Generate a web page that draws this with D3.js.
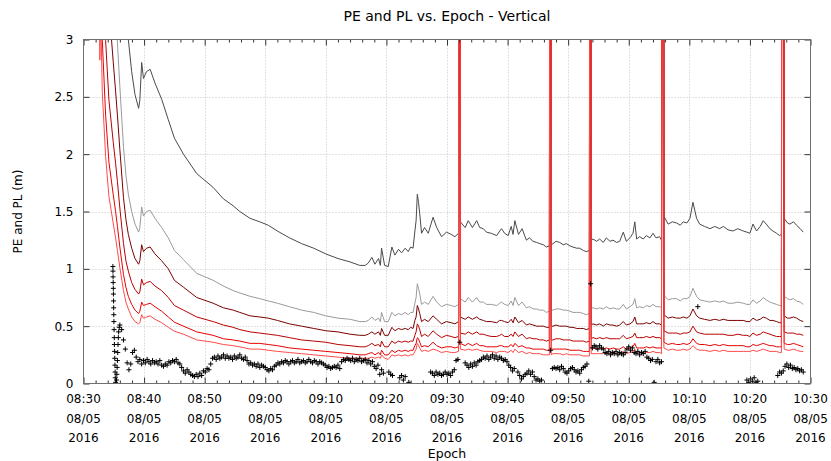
<!DOCTYPE html>
<html><head><meta charset="utf-8">
<script src="https://cdn.jsdelivr.net/npm/d3@7"></script>
<style>
body{margin:0;background:#fff}
svg{display:block}
text{font-family:"DejaVu Sans",sans-serif;fill:#000}
</style>
</head><body>
<svg id="chart" width="831" height="461"></svg>
<script>
// ---------- data (time = minutes after 08:30 on 08/05/2016) ----------
const lineT = [2.4,2.7,2.85,3.1,3.65,4.2,4.9,5.3,5.6,6.0,
6.6,7.0,7.4,7.95,8.5,9.1,9.3,9.6,9.9,10.4,
11.0,11.8,12.9,14.0,15.0,16.5,18.7,21.4,23.1,24.7,
25.8,27.5,29.1,30.5,32.0,34.0,36.0,38.0,40.0,42.0,
44.0,45.6,46.5,47.0,47.6,48.1,48.7,49.0,49.2,49.7,
50.3,50.9,51.4,52.0,52.5,53.1,53.6,54.0,54.4,54.7,
54.9,55.1,55.3,55.5,55.8,56.3,56.9,57.7,58.3,59.1,
59.9,60.7,61.3,61.9,62.0,62.15,62.2,63.0,63.5,64.2,
64.9,65.4,66.0,66.5,67.3,68.2,68.7,69.0,69.5,70.1,
70.6,70.9,71.2,71.8,72.4,73.1,73.6,74.2,74.8,75.3,
75.9,76.4,76.9,77.0,77.15,77.2,77.5,78.0,78.6,79.2,
79.7,80.3,80.8,81.4,81.9,82.5,83.0,83.5,83.6,83.75,
83.8,84.1,84.7,85.2,85.8,86.3,86.9,87.4,88.0,88.5,
89.1,89.6,90.2,90.7,91.0,91.3,91.8,92.4,92.9,93.5,
94.0,94.5,95.1,95.4,95.6,95.75,95.8,96.5,97.2,97.9,
98.5,99.0,99.6,100.1,100.6,101.2,101.7,102.5,103.4,104.2,
105.0,105.6,106.4,107.2,108.0,108.9,109.5,110.0,110.5,111.1,
111.7,112.2,112.7,113.3,113.8,114.4,114.9,115.2,115.3,115.6,
115.65,116.2,116.6,117.2,117.7,118.3,118.8];

const pl1 = [20,14,13,11.8,9.2,7.6,6.5,5.9,5.4,4.7,
3.75,3.3,3.0,2.72,2.52,2.40,2.47,2.80,2.66,2.72,
2.74,2.62,2.48,2.30,2.14,2.00,1.83,1.71,1.61,1.55,
1.50,1.44,1.41,1.38,1.33,1.27,1.22,1.18,1.13,1.09,
1.06,1.03,1.03,1.05,1.10,1.04,1.09,1.03,1.18,1.03,
1.02,1.19,1.12,1.17,1.14,1.18,1.15,1.19,1.18,1.33,
1.42,1.65,1.58,1.48,1.31,1.36,1.31,1.45,1.36,1.28,
1.32,1.30,1.28,1.31,9,9,1.41,1.36,1.42,1.36,
1.42,1.36,1.35,1.32,1.31,1.29,1.33,1.35,1.31,1.29,
1.37,1.30,1.42,1.30,1.35,1.25,1.27,1.24,1.23,1.22,
1.21,1.19,1.20,9,9,1.21,1.22,1.24,1.23,1.21,
1.22,1.20,1.19,1.18,1.18,1.16,1.15,1.16,9,9,
1.25,1.26,1.24,1.26,1.23,1.27,1.24,1.25,1.23,1.24,
1.32,1.24,1.27,1.31,1.41,1.26,1.28,1.26,1.29,1.27,
1.31,1.27,1.28,1.25,9,9,1.46,1.39,1.41,1.40,
1.38,1.41,1.40,1.44,1.58,1.44,1.39,1.37,1.35,1.37,
1.35,1.37,1.34,1.33,1.35,1.33,1.32,1.31,1.39,1.33,
1.37,1.42,1.39,1.35,1.33,1.31,1.29,1.30,9,9,
1.44,1.40,1.39,1.41,1.38,1.35,1.32];

const pl2 = [11,7.7,7.15,6.49,5.06,4.18,3.58,3.25,2.97,2.59,
2.06,1.82,1.65,1.50,1.39,1.32,1.36,1.54,1.46,1.50,
1.51,1.44,1.36,1.27,1.16,1.08,.96,.90,.85,.81,
.79,.76,.74,.72,.70,.67,.64,.62,.59,.57,
.56,.54,.54,.55,.58,.55,.57,.54,.62,.54,
.54,.62,.59,.61,.60,.62,.60,.62,.62,.70,
.75,.87,.83,.78,.69,.71,.69,.76,.71,.67,
.69,.68,.67,.69,9,9,.74,.71,.75,.71,
.75,.71,.71,.69,.69,.68,.70,.71,.69,.68,
.72,.68,.75,.68,.71,.66,.67,.65,.65,.64,
.64,.62,.63,9,9,.64,.64,.65,.65,.64,
.64,.63,.62,.62,.62,.61,.60,.61,9,9,
.66,.66,.65,.66,.65,.67,.65,.66,.65,.65,
.69,.65,.67,.69,.74,.66,.67,.66,.68,.67,
.69,.67,.67,.66,9,9,.77,.73,.74,.74,
.72,.74,.74,.76,.83,.76,.73,.72,.71,.72,
.71,.72,.70,.70,.71,.70,.69,.69,.73,.70,
.72,.75,.73,.71,.70,.69,.68,.68,9,9,
.76,.74,.73,.74,.72,.71,.69];

const pl3 = [8.66,6.06,5.63,5.11,3.98,3.29,2.81,2.55,2.34,2.04,
1.62,1.43,1.30,1.18,1.09,1.04,1.07,1.21,1.15,1.18,
1.19,1.13,1.07,1.0,.90,.84,.75,.70,.66,.64,
.62,.59,.58,.57,.55,.52,.50,.48,.46,.45,
.43,.42,.42,.43,.45,.43,.45,.42,.48,.42,
.42,.49,.46,.48,.47,.48,.47,.49,.48,.55,
.58,.68,.65,.61,.54,.56,.54,.59,.56,.52,
.54,.53,.52,.54,9,9,.58,.56,.58,.56,
.58,.56,.55,.54,.54,.53,.55,.55,.54,.53,
.56,.53,.58,.53,.55,.51,.52,.51,.50,.50,
.50,.49,.49,9,9,.50,.50,.51,.50,.50,
.50,.49,.49,.48,.48,.48,.47,.48,9,9,
.51,.52,.51,.52,.50,.52,.51,.51,.50,.51,
.54,.51,.52,.54,.58,.52,.52,.52,.53,.52,
.54,.52,.52,.51,9,9,.60,.57,.58,.57,
.57,.58,.57,.59,.65,.59,.57,.56,.55,.56,
.55,.56,.55,.55,.55,.55,.54,.54,.57,.55,
.56,.58,.57,.55,.55,.54,.53,.53,9,9,
.59,.57,.57,.58,.57,.55,.54];

const pl4 = [6.5,4.55,4.23,3.84,2.99,2.47,2.11,1.92,1.76,1.53,
1.22,1.07,.98,.88,.82,.78,.80,.91,.86,.88,
.89,.85,.81,.75,.68,.64,.58,.54,.51,.49,
.47,.45,.44,.43,.42,.40,.38,.37,.36,.34,
.33,.32,.32,.33,.35,.33,.34,.32,.37,.32,
.32,.37,.35,.37,.36,.37,.36,.37,.37,.42,
.45,.52,.50,.47,.41,.43,.41,.46,.43,.40,
.42,.41,.40,.41,9,9,.44,.43,.45,.43,
.45,.43,.43,.42,.41,.41,.42,.43,.41,.41,
.43,.41,.45,.41,.43,.39,.40,.39,.39,.38,
.38,.37,.38,9,9,.38,.38,.39,.39,.38,
.38,.38,.37,.37,.37,.37,.36,.37,9,9,
.39,.40,.39,.40,.39,.40,.39,.39,.39,.39,
.42,.39,.40,.41,.44,.40,.40,.40,.41,.40,
.41,.40,.40,.39,9,9,.46,.44,.44,.44,
.43,.44,.44,.45,.50,.45,.44,.43,.43,.43,
.43,.43,.42,.42,.43,.42,.42,.41,.44,.42,
.43,.45,.44,.43,.42,.41,.41,.41,9,9,
.45,.44,.44,.44,.43,.43,.42];

const pl5 = [5.08,3.56,3.3,3.0,2.34,1.93,1.65,1.50,1.37,1.19,
.95,.84,.76,.69,.64,.61,.63,.71,.68,.69,
.70,.67,.63,.58,.535,.50,.45,.42,.39,.38,
.37,.35,.35,.34,.33,.31,.30,.29,.28,.27,
.26,.25,.25,.26,.27,.25,.27,.25,.29,.25,
.25,.29,.27,.29,.28,.29,.28,.29,.29,.33,
.35,.40,.39,.36,.32,.33,.32,.36,.33,.31,
.32,.32,.31,.32,9,9,.35,.33,.35,.33,
.35,.33,.33,.32,.32,.32,.33,.33,.32,.32,
.34,.32,.35,.32,.33,.31,.31,.30,.30,.30,
.30,.29,.29,9,9,.30,.30,.30,.30,.30,
.30,.29,.29,.29,.29,.28,.28,.28,9,9,
.31,.31,.30,.31,.30,.31,.30,.31,.30,.30,
.32,.30,.31,.32,.35,.31,.31,.31,.32,.31,
.32,.31,.31,.31,9,9,.36,.34,.35,.34,
.34,.35,.34,.35,.39,.35,.34,.34,.33,.34,
.33,.34,.33,.33,.33,.33,.32,.32,.34,.33,
.34,.35,.34,.33,.33,.32,.32,.32,9,9,
.35,.34,.34,.35,.34,.33,.32];

const pl6 = [4.3,2.82,3.2,2.54,1.98,1.63,1.40,1.27,1.16,1.01,
.81,.71,.65,.58,.54,.52,.53,.60,.57,.58,
.59,.56,.53,.49,.456,.43,.38,.36,.34,.33,
.32,.30,.30,.29,.28,.27,.26,.25,.24,.23,
.22,.22,.22,.22,.23,.22,.23,.22,.25,.22,
.21,.25,.24,.25,.24,.25,.24,.25,.25,.28,
.30,.35,.33,.31,.28,.29,.28,.30,.29,.27,
.28,.27,.27,.28,9,9,.30,.29,.30,.29,
.30,.29,.28,.28,.28,.27,.28,.28,.28,.27,
.29,.27,.30,.27,.28,.26,.27,.26,.26,.26,
.25,.25,.25,9,9,.25,.26,.26,.26,.25,
.26,.25,.25,.25,.25,.24,.24,.24,9,9,
.26,.26,.26,.26,.26,.27,.26,.26,.26,.26,
.28,.26,.27,.28,.30,.26,.27,.26,.27,.27,
.28,.27,.27,.26,9,9,.31,.29,.30,.29,
.29,.30,.29,.30,.33,.30,.29,.29,.28,.29,
.28,.29,.28,.28,.28,.28,.28,.28,.29,.28,
.29,.30,.29,.28,.28,.28,.27,.27,9,9,
.30,.29,.29,.30,.29,.28,.28];

// PE: initial convergence burst (explicit epochs)
const peBurstT = [4.85,4.86,4.88,4.9,4.92,4.94,4.96,4.98,5.0,5.02,5.05,5.08,5.1,5.13,5.16,5.19,5.22,5.25,5.3,
5.45,5.5,5.55,5.6,5.65,5.7,5.75,5.8,5.9];
const peBurstV = [1.02,.98,.93,.88,.83,.78,.72,.66,.60,.54,.47,.40,.34,.28,.22,.16,.10,.05,.01,
.03,.08,.14,.20,.27,.34,.40,.45,.49];

// PE: regular epochs every 0.3 min from 6.0 min (null = no solution)
const peStart = 6.0, peStep = 0.3;
const peValues = [
.51,.47,.38,.30,.18,.12,.17,.27,.29,.23,
.19,.21,.17,.20,.18,.21,.19,.17,.20,.18,
.19,.17,.20,.16,.15,.17,.16,.19,.18,.20,
.19,.21,.18,.17,.14,.11,.09,.12,.10,.08,
.07,.06,.08,.06,.09,.07,.11,.10,.13,.12,
.17,.22,.23,.21,.24,.22,.23,.25,.22,.24,
.22,.23,.21,.24,.22,.23,.25,.22,.21,.23,
.20,.17,.18,.16,.17,.15,.17,.14,.16,.15,
.14,.12,.11,.13,.12,.15,.16,.18,.17,.19,
.18,.20,.19,.17,.19,.20,.18,.19,.21,.18,
.19,.20,.18,.19,.21,.19,.18,.20,.19,.17,
.19,.18,.17,.16,.14,.15,.13,.14,.15,.14,
.16,.13,.19,.21,.20,.22,.21,.20,.22,.19,
.21,.20,.22,.19,.20,.21,.18,.20,.17,.19,
.15,.13,.16,.08,.12,.09,null,null,.10,.08,
.07,null,null,null,.05,.07,.03,.06,null,.01,
null,null,null,null,null,null,null,null,null,null,
null,.10,.09,.07,.10,.08,.09,.07,.08,.10,
.08,.09,.07,.10,.12,.20,.21,.36,null,null,
.18,.16,.14,.17,.15,.18,.16,.19,.20,.21,
.23,.22,.24,.21,.23,.25,.22,.24,.21,.23,
.22,.20,.21,.19,.16,.14,.11,.13,null,.10,
.07,.04,.06,.08,.09,.11,.08,.10,.06,.03,
.04,.02,.03,null,null,null,null,.29,.13,.14,
.13,.14,.12,.15,.13,.10,.09,.11,.13,.14,
.12,.10,.11,.09,.12,.14,.15,.17,.02,.87,
.31,.33,.32,.30,.33,.31,.30,.27,.26,.28,
.25,.27,.26,.28,.25,.27,.26,.25,.27,.30,
.32,.29,.31,.27,.26,.28,.25,.27,.26,.28,
.23,.22,.20,.21,.01,.19,.21,.18,.19,null,
null,null,null,null,null,null,null,null,null,null,
null,null,null,null,null,null,null,null,.67,null,
null,null,null,null,null,null,null,null,null,null,
null,null,null,null,null,null,null,null,null,null,
null,null,null,null,null,.03,.01,.04,.02,.05,
.01,.02,null,null,null,null,null,null,null,null,
null,null,.07,.10,.09,.11,.15,.17,.14,.16,
.13,.14,.12,.13,.11,.12,.10];

const yTickValues = [0, 0.5, 1, 1.5, 2, 2.5, 3];
const yTickLabels = ["0", "0.5", "1", "1.5", "2", "2.5", "3"];
const xTickTimes = ["08:30","08:40","08:50","09:00","09:10","09:20","09:30","09:40","09:50","10:00","10:10","10:20","10:30"];
const xTickDate = "08/05";
const xTickYear = "2016";
const seriesColors = ["#4a4a4a", "#9a9a9a", "#7a0000", "#b80000", "#e60000", "#ff4a4a"];

// ---------- chart ----------
const L = 83.5, R = 810.5, TOP = 39.5, BOT = 383.5;
const svg = d3.select("#chart");
const T0 = new Date(2016, 7, 5, 8, 30, 0);
const toDate = m => new Date(T0.getTime() + m * 60000);
const x = d3.scaleTime().domain([toDate(0), toDate(120)]).range([L, R]);
const y = d3.scaleLinear().domain([0, 3]).range([BOT, TOP]);

const majorTicks = xTickTimes.map((s, i) => toDate(i * 10));
const minorTicks = d3.range(0, 121, 2).filter(m => m % 10 !== 0).map(toDate);

// grid
const grid = svg.append("g").attr("stroke", "#c4c4c4").attr("stroke-width", 1).attr("stroke-dasharray", "1,2");
majorTicks.slice(1, -1).forEach(d => grid.append("line")
  .attr("x1", Math.round(x(d)) + 0.5).attr("x2", Math.round(x(d)) + 0.5).attr("y1", TOP).attr("y2", BOT));
yTickValues.slice(1, -1).forEach(v => grid.append("line")
  .attr("x1", L).attr("x2", R).attr("y1", Math.round(y(v)) + 0.5).attr("y2", Math.round(y(v)) + 0.5));

// clip
svg.append("clipPath").attr("id", "clip").append("rect")
  .attr("x", L).attr("y", TOP).attr("width", R - L).attr("height", BOT - TOP);
const plot = svg.append("g").attr("clip-path", "url(#clip)");

const line = d3.line().x(d => x(toDate(d[0]))).y(d => y(d[1]));
[pl1, pl2, pl3, pl4, pl5, pl6].forEach((s, k) => {
  const pts = lineT.map((t, i) => [t, s[i]]).filter(p => p[1] != null);
  plot.append("path").attr("d", line(pts)).attr("fill", "none")
    .attr("stroke", seriesColors[k]).attr("stroke-width", 1);
});

// PE points
const pePts = peBurstT.map((t, i) => [t, peBurstV[i]]);
peValues.forEach((v, i) => { if (v != null) pePts.push([peStart + i * peStep, v]); });
const a = 2.5;
const peD = pePts.map(p => {
  const px = x(toDate(p[0])), py = y(p[1]);
  return `M${(px - a).toFixed(2)},${py.toFixed(2)}h${2 * a}M${px.toFixed(2)},${(py - a).toFixed(2)}v${2 * a}`;
}).join("");
plot.append("path").attr("d", peD).attr("fill", "none").attr("stroke", "#000").attr("stroke-width", 1);

// axes ticks (inward, mirrored)
const tickCol = "#333";
function styleAxis(g) { g.select(".domain").remove(); g.selectAll("line").attr("stroke", tickCol); }
svg.append("g").attr("transform", `translate(0,${BOT})`)
  .call(d3.axisBottom(x).tickValues(majorTicks).tickSize(-6).tickFormat("")).call(styleAxis);
svg.append("g").attr("transform", `translate(0,${BOT})`)
  .call(d3.axisBottom(x).tickValues(minorTicks).tickSize(-3).tickFormat("")).call(styleAxis);
svg.append("g").attr("transform", `translate(0,${TOP})`)
  .call(d3.axisTop(x).tickValues(majorTicks).tickSize(-6).tickFormat("")).call(styleAxis);
svg.append("g").attr("transform", `translate(0,${TOP})`)
  .call(d3.axisTop(x).tickValues(minorTicks).tickSize(-3).tickFormat("")).call(styleAxis);
const yl = svg.append("g").attr("transform", `translate(${L},0)`)
  .call(d3.axisLeft(y).tickValues(yTickValues).tickSize(-6).tickPadding(10)
    .tickFormat((d, i) => yTickLabels[i])).call(styleAxis);
yl.selectAll("text").attr("font-size", 12).attr("font-family", "DejaVu Sans").attr("fill", "#000");
svg.append("g").attr("transform", `translate(${R},0)`)
  .call(d3.axisRight(y).tickValues(yTickValues).tickSize(-6).tickFormat("")).call(styleAxis);

// frame
svg.append("rect").attr("x", L).attr("y", TOP).attr("width", R - L).attr("height", BOT - TOP)
  .attr("fill", "none").attr("stroke", "#707070").attr("stroke-width", 1);

// x tick labels (3 lines)
const xl = svg.append("g").attr("font-size", 12).attr("text-anchor", "middle");
majorTicks.forEach((d, i) => {
  const t = xl.append("text").attr("x", x(d)).attr("y", 403);
  t.append("tspan").attr("x", x(d)).attr("dy", 0).text(xTickTimes[i]);
  t.append("tspan").attr("x", x(d)).attr("dy", 19.5).text(xTickDate);
  t.append("tspan").attr("x", x(d)).attr("dy", 19.5).text(xTickYear);
});

// titles
svg.append("text").attr("x", (L + R) / 2).attr("y", 21).attr("text-anchor", "middle")
  .attr("font-size", 14).text("PE and PL vs. Epoch - Vertical");
svg.append("text").attr("x", (L + R) / 2).attr("y", 458).attr("text-anchor", "middle")
  .attr("font-size", 12.5).text("Epoch");
svg.append("text").attr("transform", `translate(22,${(TOP + BOT) / 2}) rotate(-90)`)
  .attr("text-anchor", "middle").attr("font-size", 12).text("PE and PL (m)");
</script>
</body></html>
